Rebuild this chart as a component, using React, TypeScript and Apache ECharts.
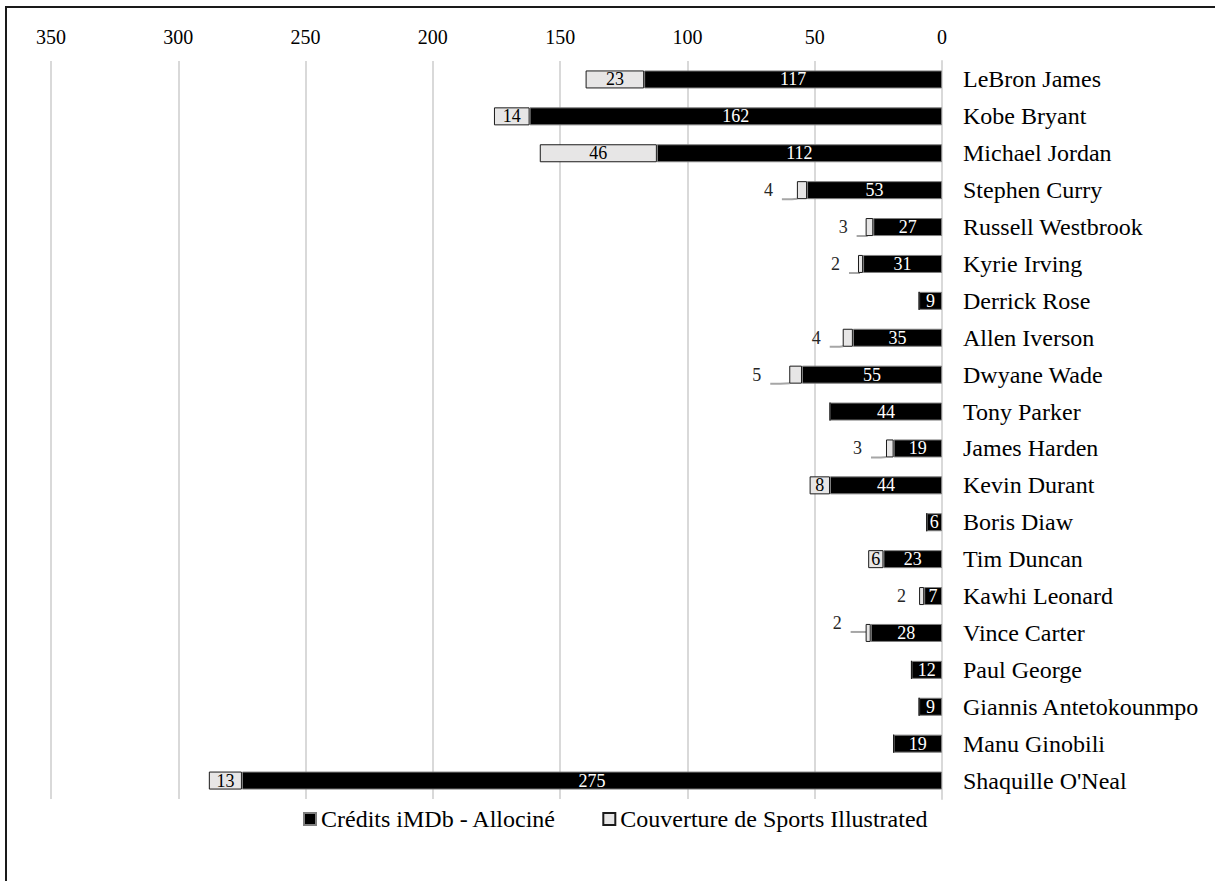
import React, { useEffect, useRef } from "react";
import * as echarts from "echarts";

const players = [
  "LeBron James", "Kobe Bryant", "Michael Jordan", "Stephen Curry", "Russell Westbrook",
  "Kyrie Irving", "Derrick Rose", "Allen Iverson", "Dwyane Wade", "Tony Parker",
  "James Harden", "Kevin Durant", "Boris Diaw", "Tim Duncan", "Kawhi Leonard",
  "Vince Carter", "Paul George", "Giannis Antetokounmpo", "Manu Ginobili", "Shaquille O'Neal",
];
const credits = [117, 162, 112, 53, 27, 31, 9, 35, 55, 44, 19, 44, 6, 23, 7, 28, 12, 9, 19, 275];
const covers = [23, 14, 46, 4, 3, 2, 0, 4, 5, 0, 3, 8, 0, 6, 2, 2, 0, 0, 0, 13];
const xTicks = [0, 50, 100, 150, 200, 250, 300, 350];

const seriesNames = ["Crédits iMDb - Allociné", "Couverture de Sports Illustrated"];

// styling for outside labels of the small cover values
const outsideLabelStyle: Record<number, { distance: number; offset?: number[]; line: boolean }> = {
  3: { distance: 24, line: true },
  4: { distance: 18, line: true },
  5: { distance: 18, line: true },
  7: { distance: 22, line: true },
  8: { distance: 28, line: true },
  10: { distance: 24, line: true },
  14: { distance: 13, line: false },
  15: { distance: 24, offset: [0, -10], line: true },
};

const FONT = "Liberation Serif";

export default function App() {
  const ref = useRef<HTMLDivElement>(null);
  useEffect(() => {
    document.body.style.margin = "0";
    const chart = echarts.init(ref.current!, null, { renderer: "svg" });

    const coverData = covers.map((v, i) => {
      const o = outsideLabelStyle[i];
      if (v === 0) return { value: v, label: { show: false } };
      if (o) {
        return {
          value: v,
          label: {
            show: true,
            position: "left",
            distance: o.distance,
            offset: o.offset || [0, 0],
            color: "#262626",
          },
          labelLine: {
            show: o.line,
            length2: 10,
            lineStyle: { color: "#a6a6a6", width: 2 },
          },
        };
      }
      return { value: v };
    });

    chart.setOption({
      animation: false,
      textStyle: { fontFamily: FONT },
      graphic: [
        {
          type: "rect",
          shape: { x: 6, y: 7, width: 1400, height: 1000 },
          style: { fill: "none", stroke: "#1a1a1a", lineWidth: 2 },
          silent: true,
          z: -10,
        },
      ],
      grid: { left: 51, right: 273, top: 61, height: 738 },
      legend: {
        left: 298,
        top: 802,
        itemWidth: 12,
        itemHeight: 12,
        itemGap: 46,
        icon: "rect",
        textStyle: { fontFamily: FONT, fontSize: 24, color: "#000" },
        data: [
          { name: seriesNames[0], textStyle: { fontFamily: FONT, fontSize: 24 } },
          { name: seriesNames[1], textStyle: { fontFamily: FONT, fontSize: 24 } },
        ],
      },
      xAxis: {
        type: "value",
        inverse: true,
        position: "top",
        min: xTicks[0],
        max: xTicks[xTicks.length - 1],
        interval: 50,
        axisLine: { show: false },
        axisTick: { show: false },
        axisLabel: { fontFamily: FONT, fontSize: 20, color: "#000", margin: 14 },
        splitLine: { show: true, lineStyle: { color: "#d9d9d9", width: 2 } },
      },
      yAxis: {
        type: "category",
        inverse: true,
        position: "right",
        data: players,
        axisLine: { show: true, lineStyle: { color: "#d9d9d9", width: 2 } },
        axisTick: { show: false },
        axisLabel: { fontFamily: FONT, fontSize: 24, color: "#000", margin: 21 },
      },
      series: [
        {
          name: seriesNames[0],
          type: "bar",
          stack: "total",
          barWidth: 18,
          data: credits,
          itemStyle: { color: "#000000", borderColor: "#7f7f7f", borderWidth: 1 },
          label: {
            show: true,
            position: "inside",
            color: "#ffffff",
            fontFamily: FONT,
            fontSize: 18,
          },
        },
        {
          name: seriesNames[1],
          type: "bar",
          stack: "total",
          barWidth: 18,
          data: coverData,
          itemStyle: { color: "#e7e6e6", borderColor: "#1a1a1a", borderWidth: 1 },
          label: {
            show: true,
            position: "inside",
            color: "#000000",
            fontFamily: FONT,
            fontSize: 18,
          },
        },
      ],
    });
    return () => chart.dispose();
  }, []);
  return <div ref={ref} style={{ width: 1215, height: 881 }} />;
}
